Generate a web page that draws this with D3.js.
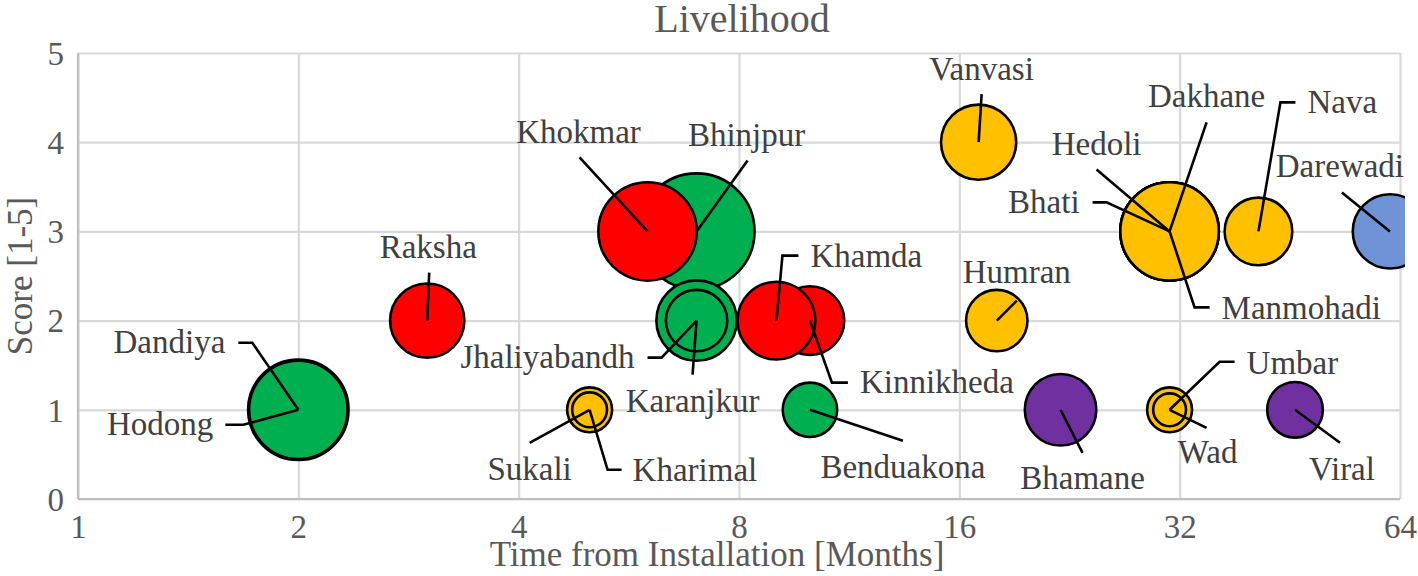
<!DOCTYPE html>
<html>
<head>
<meta charset="utf-8">
<script src="https://cdn.jsdelivr.net/npm/d3@7"></script>
<style>
  body { margin: 0; background: #fff; }
  svg { display: block; font-family: "Liberation Serif", "Times New Roman", serif; }
</style>
</head>
<body>
<svg id="chart" width="1418" height="576"></svg>
<script>
// Livelihood score vs. time since installation (bubble = size)
const villages = ["Hodong", "Dandiya", "Raksha", "Bhinjpur", "Khokmar", "Jhaliyabandh", "Karanjkur",
  "Kinnikheda", "Khamda", "Sukali", "Kharimal", "Benduakona", "Vanvasi", "Humran",
  "Hedoli", "Dakhane", "Bhati", "Manmohadi", "Nava", "Darewadi", "Bhamane", "Umbar", "Wad", "Viral"];
const months = [2, 2, 3, 7, 6, 7, 7, 10, 9, 5, 5, 10, 17, 18, 31, 31, 31, 31, 41, 62, 22, 31, 31, 46];
const scores = [1, 1, 2, 3, 3, 2, 2, 2, 2, 1, 1, 1, 4, 2, 3, 3, 3, 3, 3, 3, 1, 1, 1, 1];
const sizes  = [75, 72, 41, 100, 72, 48, 28, 35, 45, 15, 9, 22, 42, 28, 72, 72, 72, 72, 34, 41, 38, 15, 8, 23];
const groups = ["A", "A", "B", "A", "B", "A", "A", "B", "B", "C", "C", "A", "C", "C",
  "C", "C", "C", "C", "C", "D", "E", "C", "C", "E"];

const xTicks = [1, 2, 4, 8, 16, 32, 64];
const yTicks = [0, 1, 2, 3, 4, 5];

// label placement: leader points and text offset relative to bubble centre
const labelLayout = {
  Hodong:       { line: [[0, 0], [-55, 15], [-73, 15]], at: [-85, 25], anchor: "end" },
  Dandiya:      { line: [[0, 0], [-46, -67], [-60, -67]], at: [-73, -57], anchor: "end" },
  Raksha:       { line: [[0, 0], [2, -48]], at: [1, -63], anchor: "middle" },
  Khokmar:      { line: [[0, 0], [-68, -74]], at: [-69, -88], anchor: "middle" },
  Bhinjpur:     { line: [[0, 0], [51, -71]], at: [50, -85], anchor: "middle" },
  Jhaliyabandh: { line: [[0, 0], [-35, 37], [-49, 37]], at: [-62, 47], anchor: "end" },
  Karanjkur:    { line: [[0, 0], [-4, 54]], at: [-4, 91], anchor: "middle" },
  Kinnikheda:   { line: [[0, 0], [22, 62], [38, 62]], at: [50, 72], anchor: "start" },
  Khamda:       { line: [[0, 0], [6, -65], [22, -65]], at: [34, -54], anchor: "start" },
  Sukali:       { line: [[0, 0], [-60, 33]], at: [-60, 70], anchor: "middle" },
  Kharimal:     { line: [[0, 0], [18, 60], [32, 60]], at: [43, 71], anchor: "start" },
  Benduakona:   { line: [[0, 0], [93, 31]], at: [93, 68], anchor: "middle" },
  Vanvasi:      { line: [[0, 0], [3, -48]], at: [3, -62], anchor: "middle" },
  Humran:       { line: [[0, 0], [20, -20]], at: [20, -38], anchor: "middle" },
  Hedoli:       { line: [[0, 0], [-73, -62]], at: [-73, -76], anchor: "middle" },
  Dakhane:      { line: [[0, 0], [37, -109]], at: [37, -124], anchor: "middle" },
  Bhati:        { line: [[0, 0], [-63, -29], [-77, -29]], at: [-90, -18], anchor: "end" },
  Manmohadi:    { line: [[0, 0], [25, 76], [40, 76]], at: [52, 88], anchor: "start" },
  Nava:         { line: [[0, 0], [22, -129], [37, -129]], at: [49, -118], anchor: "start" },
  Darewadi:     { line: [[0, 0], [-48, -39]], at: [-50, -54], anchor: "middle" },
  Bhamane:      { line: [[0, 0], [22, 43]], at: [22, 79], anchor: "middle" },
  Umbar:        { line: [[0, 0], [50, -48], [65, -48]], at: [77, -36], anchor: "start" },
  Wad:          { line: [[0, 0], [37, 18]], at: [38, 53], anchor: "middle" },
  Viral:        { line: [[0, 0], [45, 33]], at: [47, 70], anchor: "middle" }
};

const data = villages.map((name, i) => ({
  name, month: months[i], score: scores[i], size: sizes[i], group: groups[i]
}));

const width = 1418, height = 576;
const margin = { top: 53, right: 18, bottom: 77, left: 78 };
const innerWidth  = width  - margin.left - margin.right;
const innerHeight = height - margin.top  - margin.bottom;

const svg = d3.select("#chart");
const g = svg.append("g")
  .attr("transform", `translate(${margin.left},${margin.top})`);

const x = d3.scaleLog().base(2)
  .domain([1, 64])
  .range([0, innerWidth]);

const y = d3.scaleLinear()
  .domain([0, 5])
  .range([innerHeight, 0]);

const r = d3.scaleSqrt()
  .domain([0, 100])
  .range([0, 58]);

const color = d3.scaleOrdinal()
  .domain(["A", "B", "C", "D", "E"])
  .range(["#00b050", "#ff0000", "#ffc000", "#6f93d6", "#7030a0"]);

const textColor = "#595959";

// Gitter + Achsen
const xAxis = g.append("g")
  .attr("transform", `translate(0,${innerHeight})`)
  .call(d3.axisBottom(x).tickValues(xTicks).tickFormat(d3.format("d"))
    .tickSize(-innerHeight).tickPadding(16));

const yAxis = g.append("g")
  .call(d3.axisLeft(y).tickValues(yTicks).tickFormat(d3.format("d"))
    .tickSize(-innerWidth).tickPadding(14));

[xAxis, yAxis].forEach(ax => {
  ax.select(".domain").remove();
  ax.selectAll(".tick line").attr("stroke", "#d9d9d9").attr("stroke-width", 2.2);
  ax.selectAll(".tick text")
    .attr("fill", textColor)
    .attr("font-size", "33px")
    .attr("font-family", "'Liberation Serif', 'Times New Roman', serif");
});
yAxis.selectAll(".tick text").attr("dy", "0.34em");

g.append("line")
  .attr("x1", 0).attr("x2", 0).attr("y1", 0).attr("y2", innerHeight)
  .attr("stroke", "#bfbfbf").attr("stroke-width", 2.2);
g.append("line")
  .attr("x1", 0).attr("x2", innerWidth).attr("y1", innerHeight).attr("y2", innerHeight)
  .attr("stroke", "#bfbfbf").attr("stroke-width", 2.2);

// Blasen
svg.append("clipPath").attr("id", "plotclip")
  .append("rect")
  .attr("x", 0).attr("y", -2)
  .attr("width", innerWidth + 5).attr("height", innerHeight + 4);

g.append("g")
  .attr("clip-path", "url(#plotclip)")
  .selectAll("circle")
  .data(data)
  .join("circle")
  .attr("cx", d => x(d.month))
  .attr("cy", d => y(d.score))
  .attr("r",  d => r(d.size))
  .attr("fill", d => color(d.group))
  .attr("stroke", "#000")
  .attr("stroke-width", 2.6);

// Leader lines + labels
const labels = g.append("g");
const line = d3.line();

labels.selectAll("path")
  .data(data)
  .join("path")
  .attr("transform", d => `translate(${x(d.month)},${y(d.score)})`)
  .attr("d", d => line(labelLayout[d.name].line))
  .attr("fill", "none")
  .attr("stroke", "#000")
  .attr("stroke-width", 2.6);

labels.selectAll("text")
  .data(data)
  .join("text")
  .attr("x", d => x(d.month) + labelLayout[d.name].at[0])
  .attr("y", d => y(d.score) + labelLayout[d.name].at[1])
  .attr("text-anchor", d => labelLayout[d.name].anchor)
  .attr("fill", "#404040")
  .attr("font-size", "33px")
  .text(d => d.name);

// Titel
svg.append("text")
  .attr("x", 742).attr("y", 32)
  .attr("text-anchor", "middle")
  .attr("fill", textColor)
  .attr("font-size", "40px")
  .text("Livelihood");

svg.append("text")
  .attr("x", 717).attr("y", 566)
  .attr("text-anchor", "middle")
  .attr("fill", textColor)
  .attr("font-size", "35px")
  .text("Time from Installation [Months]");

svg.append("text")
  .attr("transform", "rotate(-90)")
  .attr("x", -276).attr("y", 32)
  .attr("text-anchor", "middle")
  .attr("fill", textColor)
  .attr("font-size", "35px")
  .text("Score [1-5]");
</script>
</body>
</html>
